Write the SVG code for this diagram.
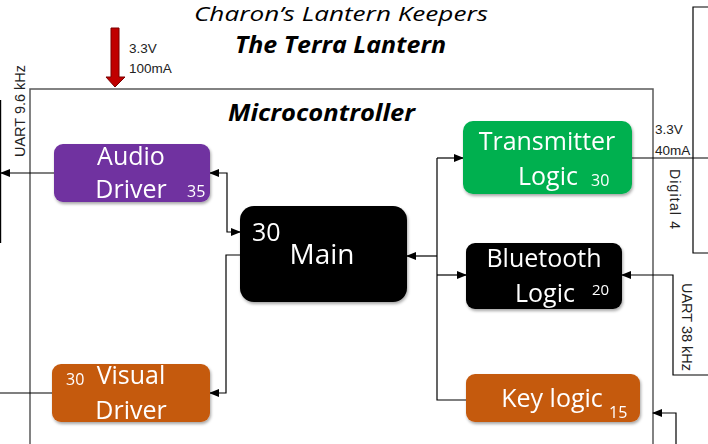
<svg xmlns="http://www.w3.org/2000/svg" width="708" height="444" viewBox="0 0 708 444">
<style>
.title{font-family:"Open Sans","Liberation Sans",sans-serif;font-style:italic;fill:#000}
.small{font-family:"Liberation Sans",Arial,sans-serif;fill:#222}
.bt{font-family:"Open Sans","Liberation Sans",sans-serif;fill:#fff}
.num{font-family:"Open Sans","Liberation Sans",sans-serif;fill:#fff}
.ln{fill:none;stroke:#000;stroke-width:1.2}
.box{filter:url(#sh)}
</style>
<defs>
<marker id="ah" markerUnits="userSpaceOnUse" markerWidth="10" markerHeight="10" refX="9" refY="5" orient="auto-start-reverse" viewBox="0 0 10 10"><path d="M0,1 L10,5 L0,9 z" fill="#000"/></marker>
<filter id="sh" x="-10%" y="-10%" width="130%" height="140%"><feDropShadow dx="1" dy="2" stdDeviation="1.5" flood-color="#000" flood-opacity="0.35"/></filter>
</defs>

<g id="titles">
<text class="title" x="194" y="21" font-size="20" textLength="294" lengthAdjust="spacingAndGlyphs">Charon’s Lantern Keepers</text>
<text class="title" x="235" y="53" font-size="24" font-weight="bold" textLength="211" lengthAdjust="spacingAndGlyphs">The Terra Lantern</text>
</g>

<g id="power-in">
<polygon points="111,28 119,28 119,77 125,77 115,87 106,77 111,77" fill="#C00000" stroke="#7a0000" stroke-width="1"/>
<text class="small" x="129" y="53" font-size="13.5">3.3V</text>
<text class="small" x="129" y="73" font-size="13.5">100mA</text>
</g>

<g id="microcontroller">
<rect x="30" y="89" width="623" height="400" fill="none" stroke="#595959" stroke-width="1.5"/>
<text class="title" x="228" y="121" font-size="24" font-weight="bold" textLength="187" lengthAdjust="spacingAndGlyphs">Microcontroller</text>
</g>

<g id="connectors">
<path class="ln" d="M54,173 H1" marker-end="url(#ah)"/>
<path class="ln" d="M0.6,100 V243"/>
<path class="ln" d="M52,393 H0"/>
<path class="ln" d="M210,173 H227 V232 H240" marker-start="url(#ah)" marker-end="url(#ah)"/>
<path class="ln" d="M240,255 H226 V393 H210" marker-end="url(#ah)"/>
<path class="ln" d="M437,256 H407" stroke-width="1.8" marker-end="url(#ah)"/>
<path class="ln" d="M437,158 V400 H466"/>
<path class="ln" d="M437,158 H463" marker-end="url(#ah)"/>
<path class="ln" d="M437,275 H466" marker-end="url(#ah)"/>
<path class="ln" d="M632,158 H708"/>
<path class="ln" d="M708,375 H673 V275 H622" marker-end="url(#ah)"/>
<path class="ln" d="M676,444 V413 H653" marker-end="url(#ah)"/>
<path class="ln" d="M708,7 H693 V253 H708"/>
</g>

<g id="labels">
<text class="small" font-size="14.5" transform="translate(25,111) rotate(-90)" text-anchor="middle">UART 9.6 kHz</text>
<text class="small" x="655" y="134" font-size="13.5">3.3V</text>
<text class="small" x="655" y="155" font-size="13.5">40mA</text>
<text class="small" font-size="14" transform="translate(670,199) rotate(90)" text-anchor="middle" textLength="60">Digital 4</text>
<text class="small" font-size="14.5" transform="translate(682,327) rotate(90)" text-anchor="middle">UART 38 kHz</text>
</g>

<g id="audio-driver" class="box">
<rect x="54" y="144" width="156" height="58" rx="9" fill="#7030A0"/>
<text class="bt" x="131" y="165" font-size="25" text-anchor="middle">Audio</text>
<text class="bt" x="131" y="198" font-size="25" text-anchor="middle">Driver</text>
<text class="num" x="187" y="197" font-size="16">35</text>
</g>

<g id="main" class="box">
<rect x="240" y="206" width="167" height="96" rx="14" fill="#000"/>
<text class="bt" x="252" y="241" font-size="25">30</text>
<text class="bt" x="322" y="264" font-size="28" text-anchor="middle">Main</text>
</g>

<g id="transmitter-logic" class="box">
<rect x="463" y="121" width="169" height="73" rx="10" fill="#00B050"/>
<text class="bt" x="547" y="150" font-size="25" text-anchor="middle">Transmitter</text>
<text class="bt" x="548" y="185" font-size="25" text-anchor="middle">Logic</text>
<text class="num" x="591" y="186" font-size="16">30</text>
</g>

<g id="bluetooth-logic" class="box">
<rect x="466" y="243" width="156" height="66" rx="9" fill="#000"/>
<text class="bt" x="544" y="267" font-size="25" text-anchor="middle">Bluetooth</text>
<text class="bt" x="545" y="302" font-size="25" text-anchor="middle">Logic</text>
<text class="num" x="592" y="295" font-size="15">20</text>
</g>

<g id="visual-driver" class="box">
<rect x="52" y="364" width="158" height="58" rx="9" fill="#C55A11"/>
<text class="num" x="66" y="385" font-size="16">30</text>
<text class="bt" x="131" y="384" font-size="25" text-anchor="middle">Visual</text>
<text class="bt" x="131" y="419" font-size="25" text-anchor="middle">Driver</text>
</g>

<g id="key-logic" class="box">
<rect x="466" y="374" width="174" height="48" rx="9" fill="#C55A11"/>
<text class="bt" x="552" y="407" font-size="25" text-anchor="middle">Key logic</text>
<text class="num" x="609" y="418" font-size="16">15</text>
</g>
</svg>
